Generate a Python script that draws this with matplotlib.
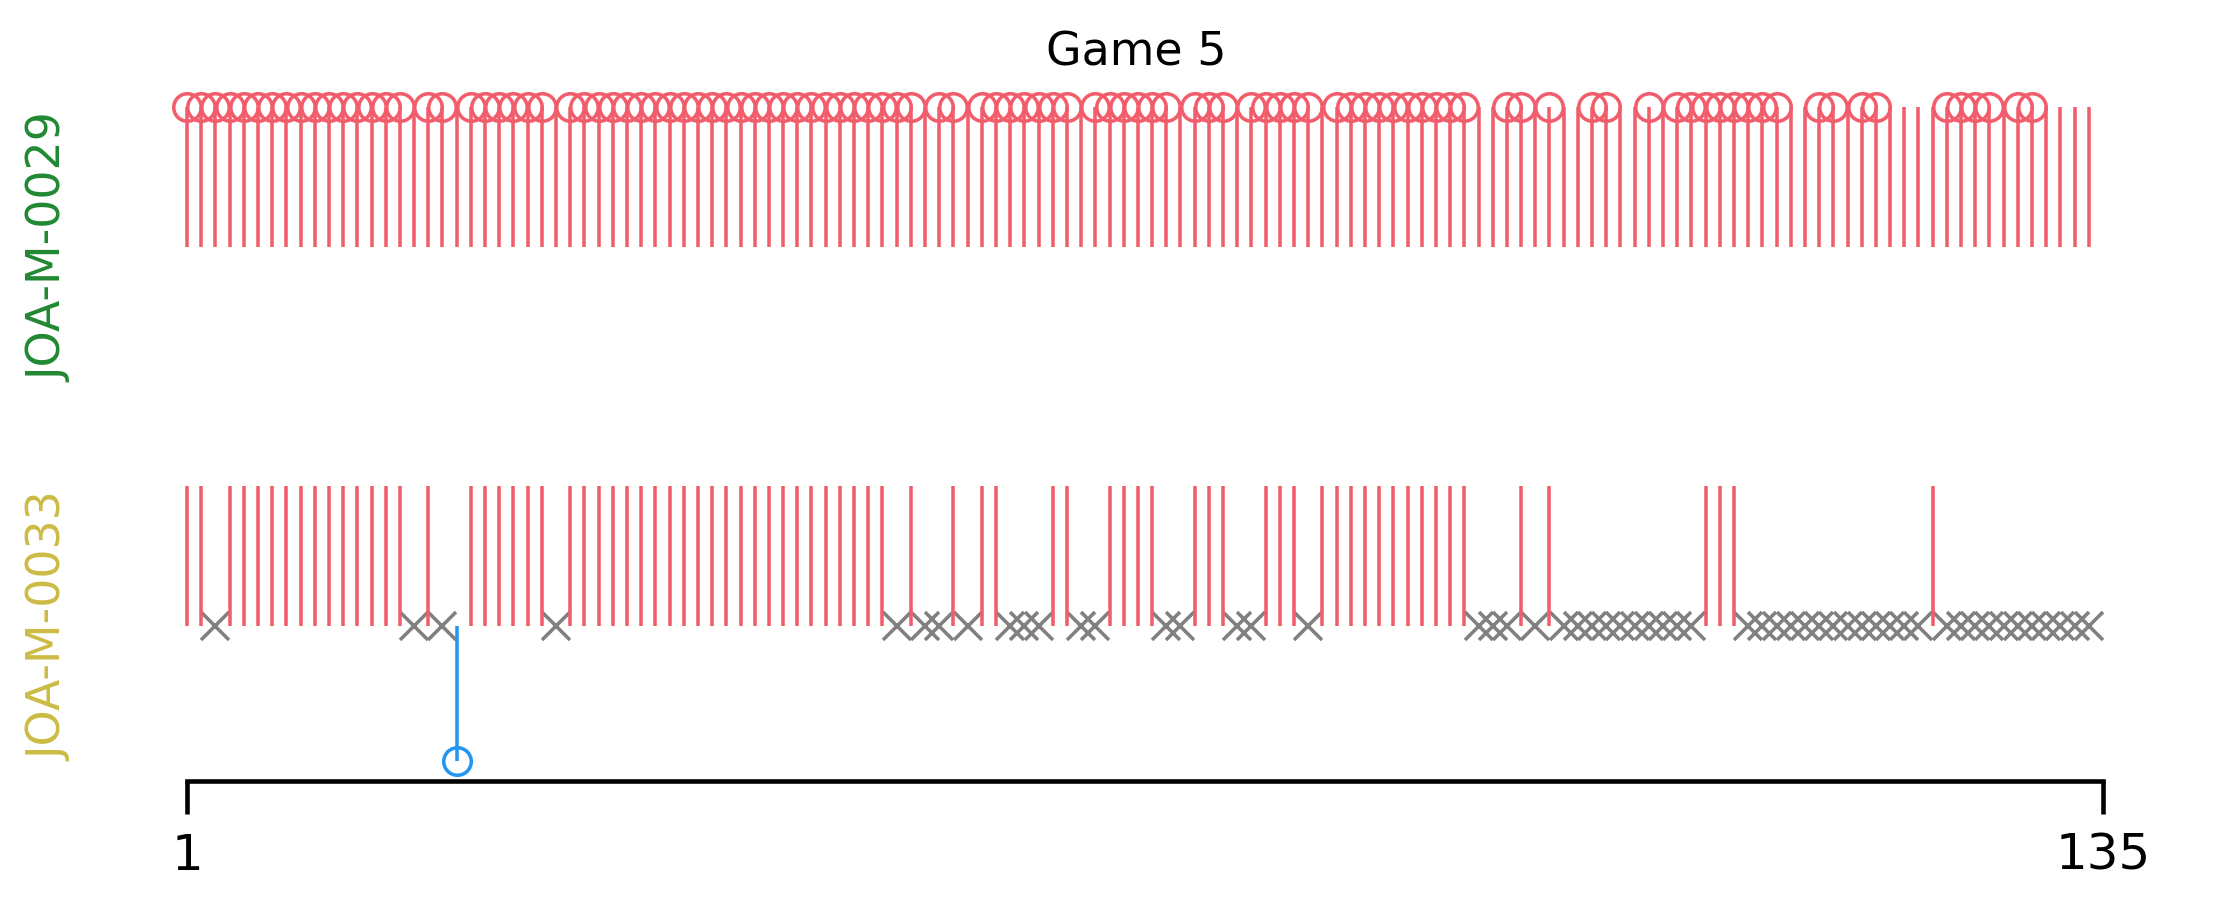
import matplotlib
matplotlib.use("Agg")
import matplotlib.pyplot as plt
from matplotlib.transforms import blended_transform_factory

# ---------------- data ----------------
title = "Game 5"
players = ["JOA-M-0029", "JOA-M-0033"]
player_colors = ["#228833", "#CCBB44"]
n_points = 135
points = list(range(1, n_points + 1))
tick_labels = ["1", "135"]

# top player (JOA-M-0029): every point has a stem; these points carry a circle
top_circles = [1, 2, 3, 4, 5, 6, 7, 8, 9, 10, 11, 12, 13, 14, 15, 16, 18, 19,
               21, 22, 23, 24, 25, 26, 28, 29, 30, 31, 32, 33, 34, 35, 36, 37,
               38, 39, 40, 41, 42, 43, 44, 45, 46, 47, 48, 49, 50, 51, 52, 54,
               55, 57, 58, 59, 60, 61, 62, 63, 65, 66, 67, 68, 69, 70, 72, 73,
               74, 76, 77, 78, 79, 80, 82, 83, 84, 85, 86, 87, 88, 89, 90, 91,
               94, 95, 97, 100, 101, 104, 106, 107, 108, 109, 110, 111, 112,
               113, 116, 117, 119, 120, 125, 126, 127, 128, 130, 131]

# bottom player (JOA-M-0033)
bottom_stems = [1, 2, 4, 5, 6, 7, 8, 9, 10, 11, 12, 13, 14, 15, 16, 18, 21, 22,
                23, 24, 25, 26, 28, 29, 30, 31, 32, 33, 34, 35, 36, 37, 38, 39,
                40, 41, 42, 43, 44, 45, 46, 47, 48, 49, 50, 52, 55, 57, 58, 62,
                63, 66, 67, 68, 69, 72, 73, 74, 77, 78, 79, 81, 82, 83, 84, 85,
                86, 87, 88, 89, 90, 91, 95, 97, 108, 109, 110, 124]
bottom_misses = [3, 17, 19, 27, 51, 53, 54, 56, 59, 60, 61, 64, 65, 70, 71, 75,
                 76, 80, 92, 93, 94, 96, 98, 99, 100, 101, 102, 103, 104, 105,
                 106, 107, 111, 112, 113, 114, 115, 116, 117, 118, 119, 120,
                 121, 122, 123, 125, 126, 127, 128, 129, 130, 131, 132, 133,
                 134, 135]
bottom_down = [20]

# ---------------- style ----------------
RED = "#F25D6B"
BLUE = "#2196F3"
GREY = "#808080"
STEM = 0.37
DOWN = 0.356
LW = 0.85
MEW = 0.85

fig = plt.figure(figsize=(7.38, 3.03), dpi=300)
ax = fig.add_axes([0, 0.13971, 1, 0.76128])

unit = 1916 / 135.0
ax.set_xlim(1 - 187 / unit, n_points + 1 + (2214 - 2103) / unit)
ax.set_ylim(-0.409, 1.417)

# top row
ax.vlines(points, 1, 1 + STEM, color=RED, lw=LW, zorder=3)
ax.plot(top_circles, [1 + STEM] * len(top_circles), "o", mfc="none",
        mec=RED, ms=6.6, mew=MEW, clip_on=False, zorder=3)

# bottom row
ax.plot(bottom_misses, [0] * len(bottom_misses), "x", color=GREY,
        ms=6.7, mew=MEW, clip_on=False, zorder=2)
ax.vlines(bottom_stems, 0, STEM, color=RED, lw=LW, zorder=3)
ax.vlines(bottom_down, 0, -DOWN, color=BLUE, lw=LW, zorder=3)
ax.plot(bottom_down, [-DOWN] * len(bottom_down), "o", mfc="none",
        mec=BLUE, ms=6.6, mew=MEW, clip_on=False, zorder=3)

# axes styling
for s in ["left", "right", "top"]:
    ax.spines[s].set_visible(False)
ax.spines["bottom"].set_bounds(1, n_points + 1)
ax.spines["bottom"].set_linewidth(1.1)
ax.set_yticks([])
ax.set_xticks([1, n_points + 1])
ax.set_xticklabels(tick_labels, fontsize=12)
ax.tick_params(axis="x", direction="out", length=7.9, width=1.1, pad=4)

# player labels
trans = blended_transform_factory(fig.transFigure, ax.transData)
for yrow, name, col in zip([1, 0], players, player_colors):
    ax.text(50 / 2214, yrow, name, transform=trans, rotation=90,
            ha="center", va="center", fontsize=11, color=col)

fig.text(1136 / 2214, 1 - 66 / 909, title, ha="center", va="baseline",
         fontsize=11)

fig.savefig("out.png", dpi=300)
